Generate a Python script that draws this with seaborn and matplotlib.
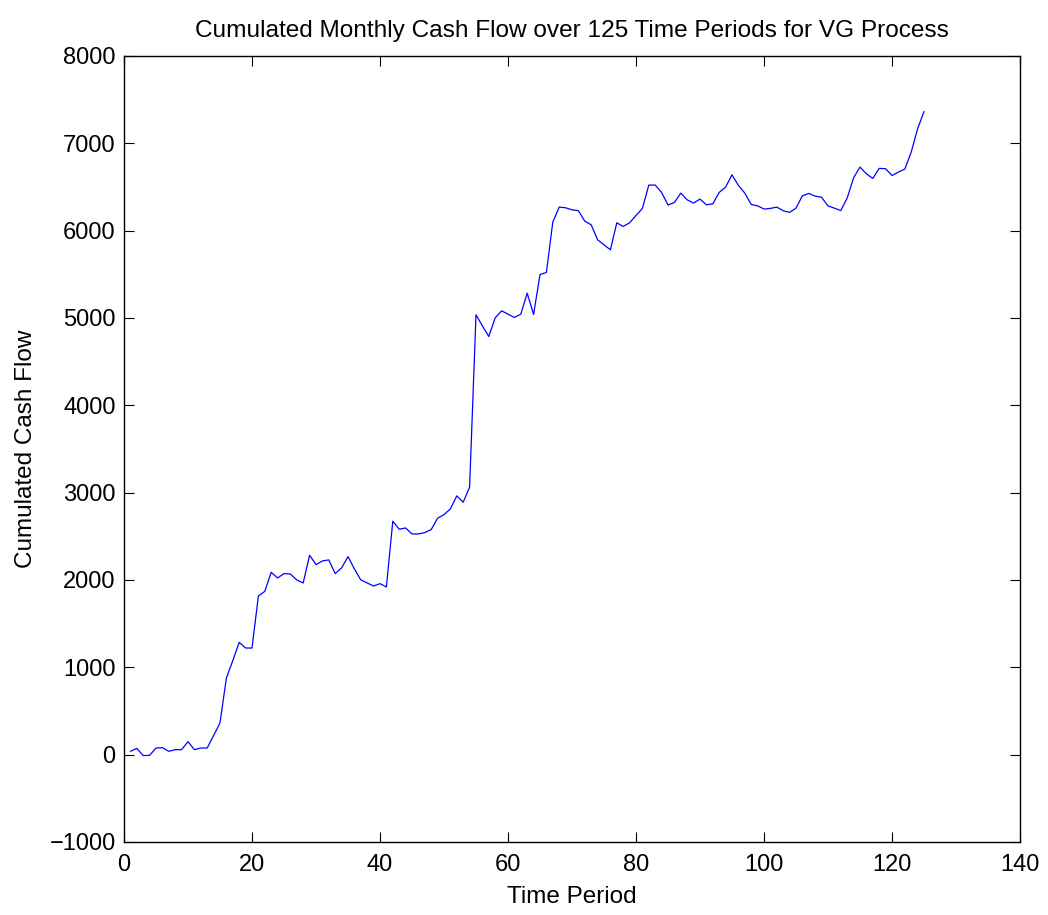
import numpy as np
import pandas as pd
import matplotlib
matplotlib.use("Agg")
import matplotlib.pyplot as plt
import seaborn as sns

periods = list(range(1, 126))
cash_flow = [
    38, 72, -11, -8, 76, 80, 38, 57, 57, 149,
    57, 76, 76, 218, 363, 878, 1076, 1286, 1221, 1221,
    1817, 1870, 2088, 2023, 2073, 2069, 2000, 1966, 2283, 2176,
    2218, 2230, 2073, 2138, 2268, 2127, 2001, 1966, 1931, 1958,
    1920, 2673, 2581, 2596, 2527, 2527, 2543, 2577, 2707, 2749,
    2814, 2963, 2891, 3062, 5036, 4910, 4788, 5002, 5082, 5044,
    5006, 5044, 5284, 5040, 5498, 5521, 6098, 6270, 6262, 6239,
    6228, 6109, 6067, 5895, 5838, 5781, 6090, 6048, 6090, 6174,
    6254, 6522, 6522, 6438, 6293, 6323, 6430, 6353, 6316, 6362,
    6296, 6307, 6438, 6499, 6640, 6518, 6430, 6300, 6285, 6247,
    6255, 6270, 6228, 6209, 6258, 6399, 6426, 6395, 6382, 6283,
    6258, 6230, 6375, 6606, 6728, 6651, 6598, 6713, 6709, 6632,
    6671, 6705, 6900, 7167, 7365,
]
x_ticks = [0, 20, 40, 60, 80, 100, 120, 140]
y_ticks = [-1000, 0, 1000, 2000, 3000, 4000, 5000, 6000, 7000, 8000]

df = pd.DataFrame({"Time Period": periods, "Cumulated Cash Flow": cash_flow})

sns.set_theme(style="white")
plt.rcParams["font.family"] = ["Liberation Sans", "DejaVu Sans"]
plt.rcParams["axes.unicode_minus"] = True

fig = plt.figure(figsize=(10.48, 9.15), dpi=100)
ax = fig.add_axes([0.1183, 0.0798, 0.855, 0.859])

sns.lineplot(data=df, x="Time Period", y="Cumulated Cash Flow", ax=ax,
             color="#0000ff", linewidth=0.9)

ax.set_xlim(0, 140)
ax.set_ylim(-1000, 8000)
ax.set_xticks(x_ticks)
ax.set_yticks(y_ticks)
ax.set_xticklabels([str(v) for v in x_ticks])
ax.set_yticklabels([str(v).replace("-", "\u2212") for v in y_ticks])

ax.tick_params(direction="in", length=7, width=0.8, color="black",
               labelsize=17, labelcolor="black", top=True, right=True,
               bottom=True, left=True)
ax.tick_params(axis="x", pad=9)
ax.tick_params(axis="y", pad=6)
for s in ax.spines.values():
    s.set_visible(True)
    s.set_color("black")
    s.set_linewidth(1.0)

ax.set_title("Cumulated Monthly Cash Flow over 125 Time Periods for VG Process",
             fontsize=17.6, color="black", pad=14)
ax.set_xlabel("Time Period", fontsize=17.5, color="black", labelpad=7)
ax.set_ylabel("Cumulated Cash Flow", fontsize=17.5, color="black", labelpad=9)
ax.grid(False)

fig.savefig("out.png", dpi=100, facecolor="white")
